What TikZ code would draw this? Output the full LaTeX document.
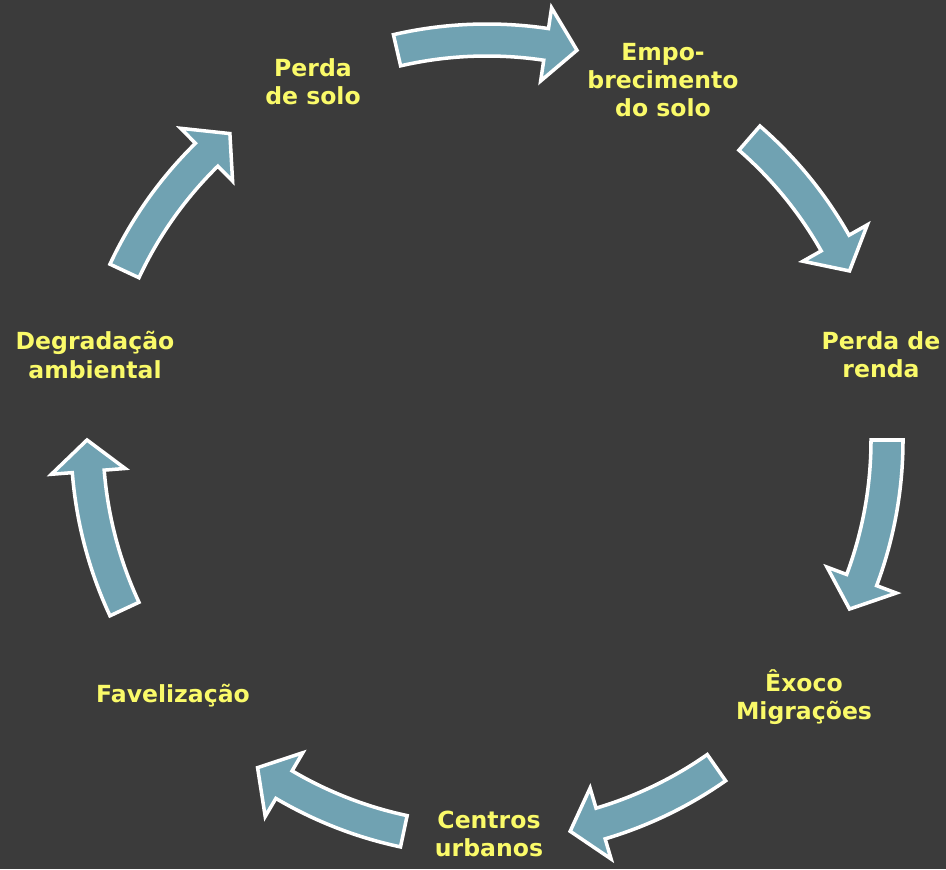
\documentclass[tikz,border=0pt]{standalone}
\usepackage{fontspec}
\setmainfont{DejaVu Sans}
\definecolor{bgdark}{RGB}{59,59,59}
\definecolor{arrowblue}{RGB}{112,162,178}
\definecolor{labelyellow}{RGB}{250,250,105}
\tikzset{
  cyclelabel/.style={text=labelyellow, font=\bfseries\fontsize{13.4}{16}\selectfont, align=center},
  arrowbody/.style={fill=arrowblue, draw=white, line width=2pt, line join=miter}
}
% curved block arrow on the circle, #1 = tail angle, #2 = tip angle
\newcommand{\cyclearrow}[2]{%
  \pgfmathsetmacro{\headang}{#2+4.5}
  \draw[arrowbody] (#1:416) arc[start angle=#1, end angle=\headang, radius=416]
    -- (\headang:437) -- (#2:400) -- (\headang:363) -- (\headang:384)
    arc[start angle=\headang, end angle=#1, radius=384] -- cycle;}
\begin{document}
\begin{tikzpicture}[x=0.02cm, y=0.02cm]
\fill[bgdark] (0,0) rectangle (946,869);
\useasboundingbox (0,0) rectangle (946,869);

% arrows round the cycle
\begin{scope}[shift={(487,429)}]
\cyclearrow{103}{77}
\cyclearrow{49}{25}
\cyclearrow{0}{-25}
\cyclearrow{-55}{-78}
\cyclearrow{-102}{-125}
\cyclearrow{205}{180}
\cyclearrow{155}{130}
\end{scope}

% labels
\node[cyclelabel] (perda) at (313,787) {Perda\\de solo};
\node[cyclelabel] (empo) at (663,789) {Empo-\\brecimento\\do solo};
\node[cyclelabel] (renda) at (881,514) {Perda de\\renda};
\node[cyclelabel] (exodo) at (804,172) {Êxoco\\Migrações};
\node[cyclelabel] (centros) at (489,35) {Centros\\urbanos};
\node[cyclelabel] (favela) at (173,173) {Favelização};
\node[cyclelabel] (degrada) at (95,514) {Degradação\\ambiental};
\end{tikzpicture}
\end{document}
